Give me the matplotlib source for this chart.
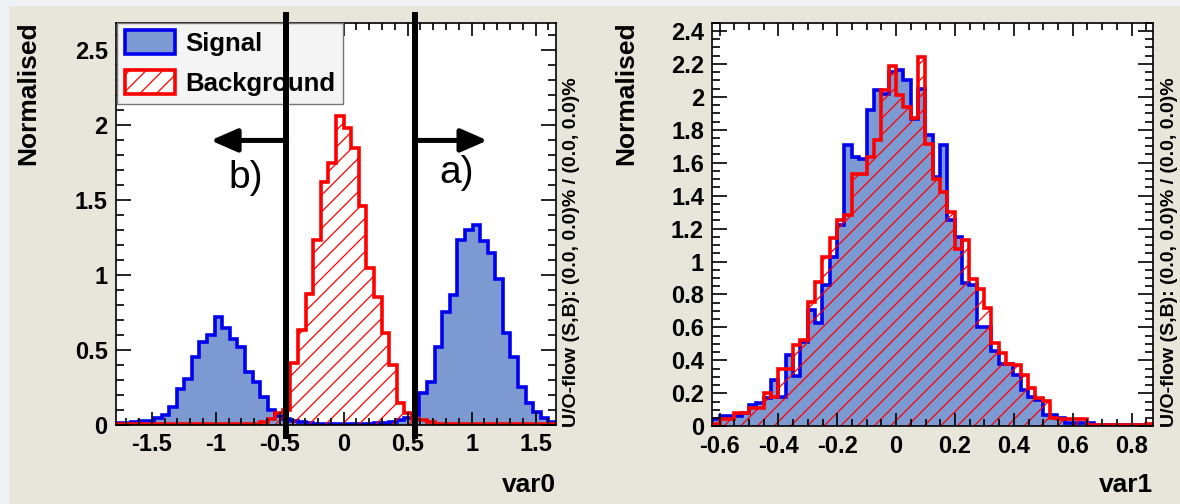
import numpy as np
import matplotlib.pyplot as plt
from matplotlib.patches import Patch, Rectangle
from matplotlib.ticker import MultipleLocator, FuncFormatter

plt.rcParams['font.family'] = ['Liberation Sans', 'DejaVu Sans']
plt.rcParams['font.weight'] = 'bold'
plt.rcParams['hatch.linewidth'] = 0.9

# var0: 58 bins between data min and max
var0_range = (-1.78, 1.66)
var0_sig = [0.016, 0.016, 0.020, 0.029, 0.030, 0.044, 0.067, 0.118, 0.238, 0.304,
            0.451, 0.556, 0.600, 0.718, 0.644, 0.571, 0.522, 0.356, 0.289, 0.189,
            0.100, 0.060, 0.040, 0.025, 0.020, 0.015, 0.010, 0.008, 0.008, 0.008,
            0.008, 0.008, 0.010, 0.010, 0.012, 0.015, 0.020, 0.035, 0.050, 0.070,
            0.211, 0.289, 0.522, 0.756, 0.867, 1.233, 1.296, 1.333, 1.229, 1.149,
            0.971, 0.616, 0.456, 0.256, 0.149, 0.089, 0.045, 0.020]
var0_bkg = [0.005, 0.005, 0.005, 0.005, 0.005, 0.005, 0.005, 0.005, 0.005, 0.005,
            0.005, 0.005, 0.005, 0.005, 0.005, 0.005, 0.005, 0.005, 0.010, 0.020,
            0.040, 0.078, 0.100, 0.410, 0.633, 0.871, 1.233, 1.616, 1.744, 2.060,
            1.980, 1.844, 1.456, 1.044, 0.856, 0.611, 0.400, 0.150, 0.080, 0.040,
            0.035, 0.020, 0.010, 0.005, 0.005, 0.005, 0.005, 0.005, 0.005, 0.005,
            0.005, 0.005, 0.005, 0.005, 0.005, 0.005, 0.005, 0.005]
var0_cuts = [-0.45, 0.557]

# var1: 60 bins
var1_range = (-0.625, 0.873)
var1_sig = [0.045, 0.060, 0.060, 0.065, 0.080, 0.130, 0.140, 0.170, 0.280, 0.180,
            0.430, 0.305, 0.513, 0.705, 0.624, 0.857, 1.028, 1.220, 1.705, 1.634,
            1.620, 1.917, 2.042, 2.020, 2.150, 2.160, 2.100, 1.867, 2.050, 1.766,
            1.513, 1.710, 1.250, 1.150, 0.867, 0.860, 0.600, 0.600, 0.460, 0.380,
            0.380, 0.310, 0.220, 0.180, 0.160, 0.070, 0.070, 0.050, 0.018, 0.018,
            0.018, 0.018, 0.008, 0.008, 0.008, 0.008, 0.008, 0.008, 0.008, 0.008]
var1_bkg = [0.015, 0.045, 0.045, 0.079, 0.079, 0.110, 0.110, 0.200, 0.180, 0.345,
            0.345, 0.493, 0.523, 0.755, 0.877, 1.028, 1.140, 1.250, 1.280, 1.533,
            1.533, 1.634, 1.735, 2.040, 2.190, 2.008, 1.937, 1.870, 2.240, 1.715,
            1.503, 1.422, 1.300, 1.079, 1.129, 0.897, 0.836, 0.715, 0.503, 0.442,
            0.380, 0.370, 0.310, 0.230, 0.170, 0.155, 0.048, 0.045, 0.045, 0.042,
            0.042, 0.008, 0.008, 0.008, 0.008, 0.008, 0.008, 0.008, 0.008, 0.015]

sig_fill = '#7d99d1'
sig_line = '#0000ee'
bkg_line = '#ff0000'
hist_lw = 2.6

fig = plt.figure(figsize=(11.8, 5.04), dpi=100, facecolor='#eef2f7')
fig.add_artist(Rectangle((9 / 1180, 0), 1, 1 - 6 / 504, transform=fig.transFigure,
                         facecolor='#e8e5da', edgecolor='none', zorder=-10))

ax0 = fig.add_axes([0.0983, 0.1567, 0.3729, 0.7982])
ax1 = fig.add_axes([0.6036, 0.1542, 0.3735, 0.8008])


def draw_hist(ax, sig, bkg, rng):
    edges = np.linspace(rng[0], rng[1], len(sig) + 1)
    ax.stairs(sig, edges, fill=True, facecolor=sig_fill, lw=0)
    ax.stairs(sig, edges, color=sig_line, lw=hist_lw)
    ax.stairs(bkg, edges, fill=True, facecolor='none', edgecolor=bkg_line, hatch='//', lw=0)
    ax.stairs(bkg, edges, color=bkg_line, lw=hist_lw)


def tick_fmt(v, pos):
    if abs(v) < 1e-9:
        return '0'
    return '%g' % round(v, 3)


def style_axes(ax, xlim, ylim, xmaj, xmin, ymaj, ymin):
    ax.set_xlim(*xlim)
    ax.set_ylim(*ylim)
    ax.set_facecolor('white')
    ax.xaxis.set_major_locator(MultipleLocator(xmaj))
    ax.xaxis.set_minor_locator(MultipleLocator(xmin))
    ax.yaxis.set_major_locator(MultipleLocator(ymaj))
    ax.yaxis.set_minor_locator(MultipleLocator(ymin))
    ax.xaxis.set_major_formatter(FuncFormatter(tick_fmt))
    ax.yaxis.set_major_formatter(FuncFormatter(tick_fmt))
    ax.tick_params(which='both', direction='in', top=True, right=True, width=1.2,
                   labelsize=17)
    ax.tick_params(axis='x', which='major', length=9.5, pad=6)
    ax.tick_params(axis='x', which='minor', length=5)
    ax.tick_params(axis='y', which='major', length=10.5, pad=6)
    ax.tick_params(axis='y', which='minor', length=5.5)
    for s in ax.spines.values():
        s.set_linewidth(1.2)


draw_hist(ax0, var0_sig, var0_bkg, var0_range)
style_axes(ax0, var0_range, (0, 2.68), 0.5, 0.1, 0.5, 0.1)

draw_hist(ax1, var1_sig, var1_bkg, var1_range)
style_axes(ax1, var1_range, (0, 2.45), 0.2, 0.05, 0.2, 0.05)

# legend
handles = [Patch(facecolor=sig_fill, edgecolor=sig_line, lw=hist_lw, label='Signal'),
           Patch(facecolor='white', edgecolor=bkg_line, hatch='//', lw=hist_lw, label='Background')]
leg = ax0.legend(handles=handles, loc='upper left', bbox_to_anchor=(0.003, 1.0),
                 borderaxespad=0, fontsize=18.5, handlelength=1.95, handleheight=1.05,
                 labelspacing=0.55, handletextpad=0.4, borderpad=0.3,
                 fancybox=False, framealpha=1)
leg.get_frame().set_facecolor('#f4f4f4')
leg.get_frame().set_edgecolor('#777777')
leg.get_frame().set_linewidth(1.0)

# cut lines and arrows
for c in var0_cuts:
    ax0.axvline(c, ymin=-0.028, ymax=1.019, color='black', lw=4.3, clip_on=False, zorder=10)
ax0.annotate('', xy=(-1.04, 1.896), xytext=(var0_cuts[0], 1.896),
             arrowprops=dict(arrowstyle='-|>,head_length=0.8,head_width=0.35',
                             mutation_scale=20, lw=3.6, color='black', shrinkA=0, shrinkB=0),
             zorder=10)
ax0.annotate('', xy=(1.124, 1.896), xytext=(var0_cuts[1], 1.896),
             arrowprops=dict(arrowstyle='-|>,head_length=0.8,head_width=0.35',
                             mutation_scale=20, lw=3.6, color='black', shrinkA=0, shrinkB=0),
             zorder=10)
ax0.text(-0.768, 1.643, 'b)', fontsize=28, fontweight='normal', ha='center', va='center')
ax0.text(0.883, 1.677, 'a)', fontsize=28, fontweight='normal', ha='center', va='center')

# axis titles
fig.text(28 / 1180, 1 - 21 / 504, 'Normalised', rotation=90, ha='center', va='top', fontsize=19)
fig.text(626 / 1180, 1 - 21 / 504, 'Normalised', rotation=90, ha='center', va='top', fontsize=19)
fig.text(556 / 1180, 1 - 485 / 504, 'var0', ha='right', va='center', fontsize=19)
fig.text(1153 / 1180, 1 - 485 / 504, 'var1', ha='right', va='center', fontsize=19)
uo = 'U/O-flow (S,B): (0.0, 0.0)% / (0.0, 0.0)%'
fig.text(571 / 1180, 1 - 427 / 504, uo, rotation=90, ha='center', va='bottom', fontsize=14)
fig.text(1169 / 1180, 1 - 427 / 504, uo, rotation=90, ha='center', va='bottom', fontsize=14)

fig.savefig('out.png', dpi=100, facecolor=fig.get_facecolor())
